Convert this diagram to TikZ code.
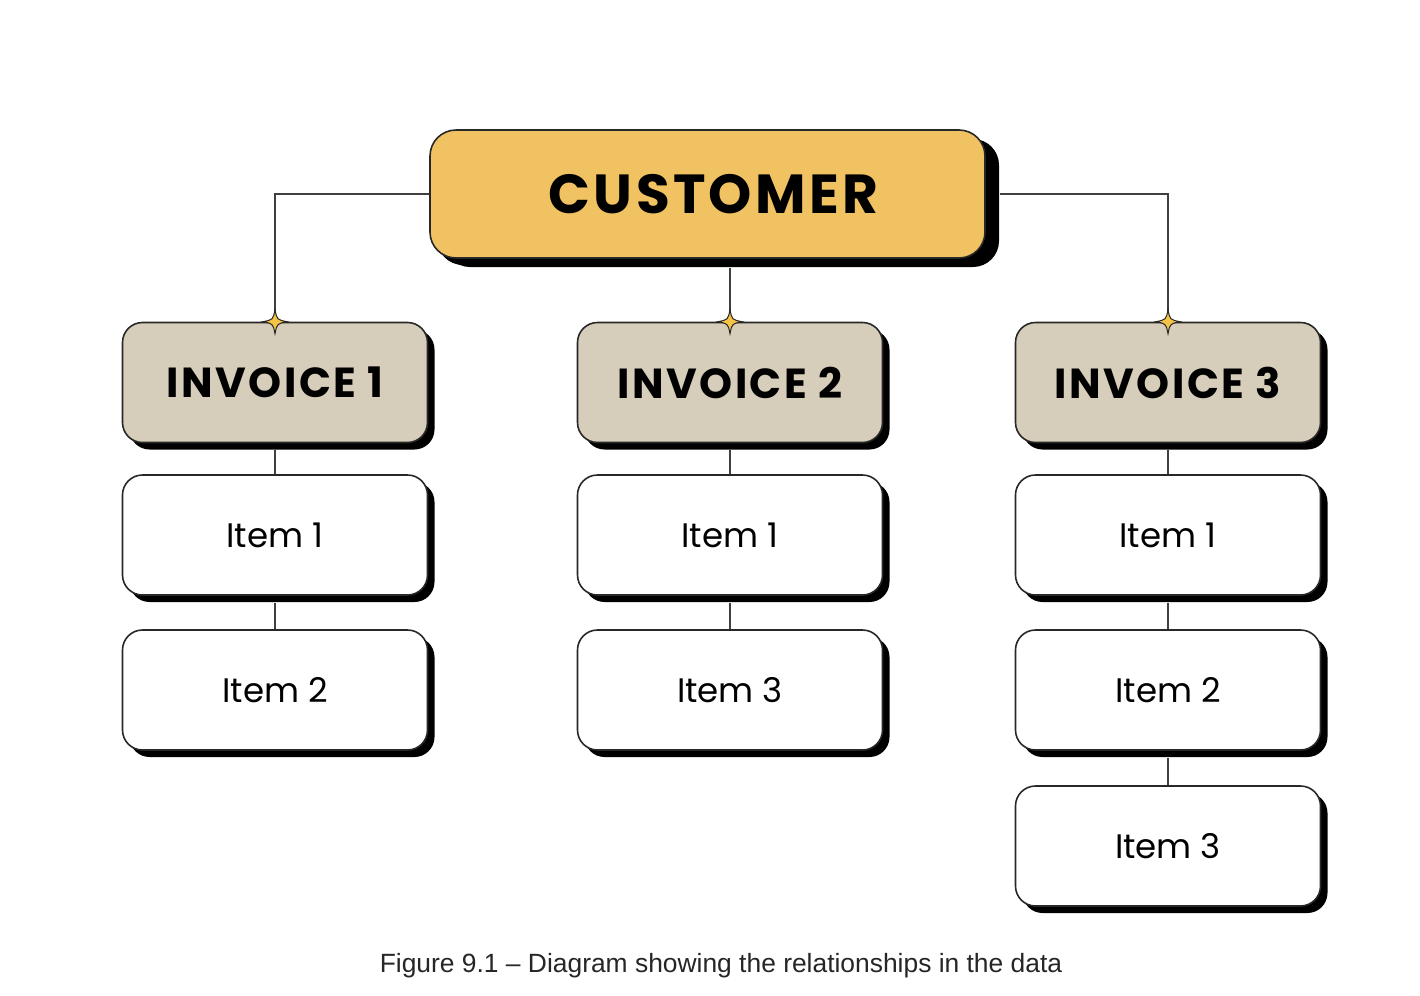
\documentclass[tikz,border=0pt]{standalone}
\usepackage{fontspec}
\setmainfont{Poppins}
\newfontfamily\capfont{Liberation Sans}
\usetikzlibrary{shadows}
\definecolor{custY}{RGB}{240,194,97}
\definecolor{invG}{RGB}{214,205,186}
\definecolor{edge}{RGB}{40,40,40}
\definecolor{starY}{RGB}{245,196,70}
\tikzset{
  box/.style={draw=edge, line width=0.8pt, rounded corners=10pt, inner sep=0pt,
    minimum width=152.5pt, minimum height=60pt, fill=white,
    drop shadow={shadow xshift=3.5pt, shadow yshift=-3.5pt, opacity=1, fill=black}},
  custbox/.style={box, fill=custY, minimum width=277.5pt, minimum height=64pt, rounded corners=13pt,
    drop shadow={shadow xshift=7pt, shadow yshift=-4.5pt, opacity=1, fill=black},
    font=\fontsize{27.5}{32}\selectfont\bfseries\addfontfeatures{LetterSpace=6}},
  invbox/.style={box, fill=invG, font=\fontsize{21}{25}\selectfont\bfseries\addfontfeatures{LetterSpace=6}},
  itembox/.style={box, font=\fontsize{17}{20}\selectfont},
  link/.style={draw=black!75, line width=0.6pt},
  spark/.pic={\draw[fill=starY, draw=black!85, line width=0.5pt]
     (0,-12) .. controls (2,-2) .. (12,0) .. controls (2,2) .. (0,12)
     .. controls (-2,2) .. (-12,0) .. controls (-2,-2) .. cycle;}
}
\begin{document}
\begin{tikzpicture}[x=0.5pt,y=-0.5pt]
\useasboundingbox (0,0) rectangle (1420,996);
\node[custbox] (cust) at (707.5,194) {\hspace{6pt}CUSTOMER};
\node[invbox] (inv1) at (275,382.5) {INVOICE 1};
\node[invbox] (inv2) at (730,382.5) {INVOICE 2};
\node[invbox] (inv3) at (1168,382.5) {INVOICE 3};
\node[itembox] (a1) at (275,535) {Item 1};
\node[itembox] (a2) at (275,690) {Item 2};
\node[itembox] (b1) at (730,535) {Item 1};
\node[itembox] (b2) at (730,690) {Item 3};
\node[itembox] (c1) at (1168,535) {Item 1};
\node[itembox] (c2) at (1168,690) {Item 2};
\node[itembox] (c3) at (1168,846) {Item 3};
\draw[link] (cust.west) -| (inv1.north);
\draw[link] ([xshift=7pt]cust.east) -| (inv3.north);
\draw[link] ([yshift=-4.5pt]cust.south -| inv2.north) -- (inv2.north);
\draw[link] ([yshift=-3.5pt]inv1.south) -- (a1.north);
\draw[link] ([yshift=-3.5pt]a1.south) -- (a2.north);
\draw[link] ([yshift=-3.5pt]inv2.south) -- (b1.north);
\draw[link] ([yshift=-3.5pt]b1.south) -- (b2.north);
\draw[link] ([yshift=-3.5pt]inv3.south) -- (c1.north);
\draw[link] ([yshift=-3.5pt]c1.south) -- (c2.north);
\draw[link] ([yshift=-3.5pt]c2.south) -- (c3.north);
\pic at (inv1.north) {spark};
\pic at (inv2.north) {spark};
\pic at (inv3.north) {spark};
\node[font=\capfont\fontsize{13.2}{16}\selectfont, text=black!85] (cap) at (721,966) {Figure 9.1 – Diagram showing the relationships in the data};
\end{tikzpicture}
\end{document}
